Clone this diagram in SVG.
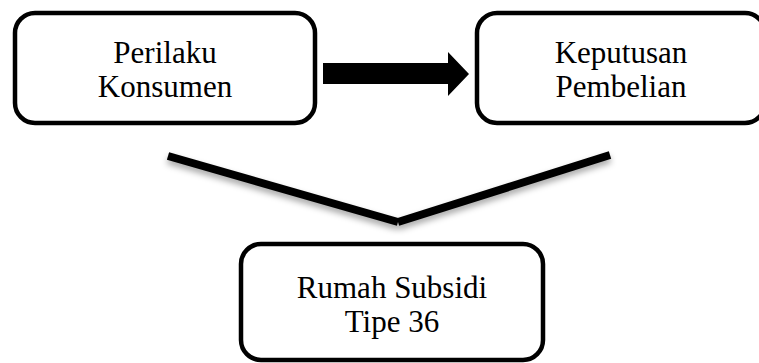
<svg xmlns="http://www.w3.org/2000/svg" width="759" height="363" viewBox="0 0 759 363">
<defs>
<style>
.box{fill:#fff;stroke:#000;stroke-width:4.5}
.t{font-family:"Liberation Serif","Times New Roman",serif;font-size:31px;fill:#000;text-anchor:middle}
</style>
<filter id="sh" x="-10%" y="-30%" width="120%" height="180%">
<feDropShadow dx="0" dy="4" stdDeviation="3" flood-color="#000" flood-opacity="0.35"/>
</filter>
</defs>
<rect width="759" height="363" fill="#fff"/>
<g id="connectors">
<path d="M323,63 H448 V52 L469,74 L448,96 V84 H323 Z" fill="#000"/>
<g filter="url(#sh)">
<line x1="168" y1="156" x2="398" y2="222" stroke="#000" stroke-width="8"/>
<line x1="398" y1="222" x2="610" y2="155" stroke="#000" stroke-width="8"/>
</g>
</g>
<g id="perilaku">
<rect class="box" x="15" y="13" width="300" height="110" rx="20"/>
<text class="t" x="165" y="63">Perilaku</text>
<text class="t" x="165" y="97">Konsumen</text>
</g>
<g id="keputusan">
<rect class="box" x="477" y="13" width="288" height="110" rx="20"/>
<text class="t" x="621" y="63">Keputusan</text>
<text class="t" x="621" y="97">Pembelian</text>
</g>
<g id="rumah">
<rect class="box" x="241" y="244" width="302" height="116" rx="20"/>
<text class="t" x="392" y="298">Rumah Subsidi</text>
<text class="t" x="392" y="332">Tipe 36</text>
</g>
</svg>
